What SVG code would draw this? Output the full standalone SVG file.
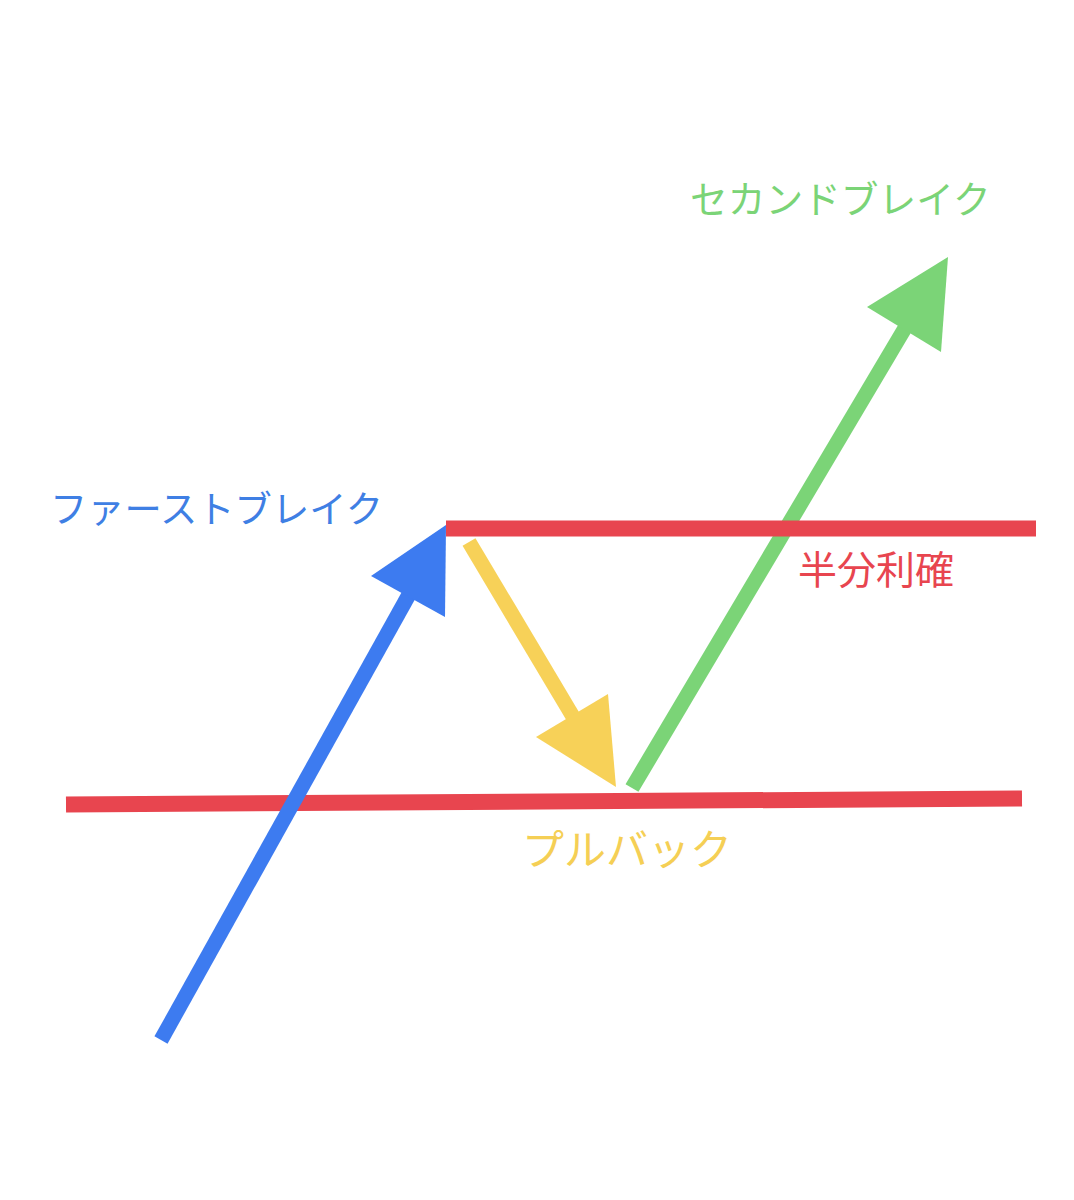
<svg xmlns="http://www.w3.org/2000/svg" width="1074" height="1200" viewBox="0 0 1074 1200">
<style>
.lbl{font-family:"Noto Sans CJK JP","Noto Sans CJK SC",sans-serif;font-weight:400;}
.shaft{fill:none;stroke-width:15;stroke-linecap:butt;}
.lvl{fill:none;stroke:#e8454f;stroke-width:16;stroke-linecap:butt;}
</style>
<rect width="1074" height="1200" fill="#ffffff"/>
<g id="connectors">
<g id="second-break-arrow">
<line class="shaft" stroke="#7bd477" x1="632" y1="788" x2="908" y2="323"/>
<polygon fill="#7bd477" points="948,257 867,307 941,352"/>
</g>
<g id="levels">
<line id="take-profit-line" class="lvl" x1="446" y1="528.5" x2="1036" y2="528.5"/>
<line id="support-line" class="lvl" x1="66" y1="804.5" x2="1022" y2="798.5"/>
</g>
<g id="first-break-arrow">
<line class="shaft" stroke="#3d7bf0" x1="161" y1="1040" x2="411" y2="591"/>
<polygon fill="#3d7bf0" points="446,525 371,576 445,617"/>
</g>
<g id="pullback-arrow">
<line class="shaft" stroke="#f7d158" x1="469" y1="542" x2="575" y2="720"/>
<polygon fill="#f7d158" points="616,787 536,737 608,694"/>
</g>
</g>
<g id="label-first-break"><text class="lbl" x="50" y="523" font-size="37.3" fill="#3f7fe4">ファーストブレイク</text></g>
<g id="label-second-break"><text class="lbl" x="690" y="213" font-size="37.7" fill="#7bd477">セカンドブレイク</text></g>
<g id="label-take-profit"><text class="lbl" x="798" y="584" font-size="39" fill="#e8454f">半分利確</text></g>
<g id="label-pullback"><text class="lbl" x="522" y="865" font-size="42" fill="#f5cf55">プルバック</text></g>
</svg>
